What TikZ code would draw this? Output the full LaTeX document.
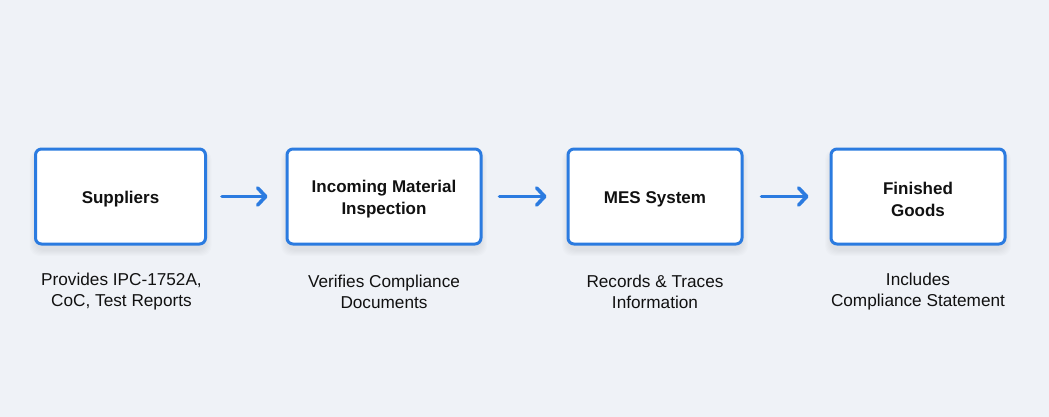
\documentclass[tikz,border=0pt]{standalone}
\usepackage{fontspec}
\setmainfont{Liberation Sans}
\usetikzlibrary{arrows.meta}
\definecolor{bgc}{HTML}{EFF2F7}
\definecolor{bluec}{HTML}{2B7BE0}
\definecolor{txt}{HTML}{111111}
\tikzset{
  box/.style={draw=bluec, line width=3pt, fill=white, rounded corners=6pt,
    minimum height=95pt, align=center, inner sep=0pt,
    font=\fontsize{17}{22}\selectfont\bfseries, text=txt},
  lbl/.style={align=center, font=\fontsize{17.2}{21}\selectfont, text=txt},
  flow/.style={draw=bluec, line width=3.6pt, line cap=round,
    -{Straight Barb[length=8pt,width=17pt,line cap=round,line join=round]}},
}
\newcommand{\softshadow}[4]{%
  \foreach \k in {1,...,6}{%
    \fill[black, opacity=0.012, rounded corners=10pt]
      (#1-#3/2-\k, #2-#4/2+4-\k*0.6) rectangle (#1+#3/2+\k, #2+#4/2+6+\k);
  }}
\begin{document}
\begin{tikzpicture}[x=1pt,y=-1pt]
\fill[bgc] (0,0) rectangle (1049,417);
\useasboundingbox (0,0) rectangle (1049,417);
\softshadow{120.5}{196.5}{170}{95}
\softshadow{384}{196.5}{194}{95}
\softshadow{655}{196.5}{174}{95}
\softshadow{918}{196.5}{174}{95}
\node[box, minimum width=170pt] (s) at (120.5,196.5) {};
\node[box, minimum width=194pt] (i) at (384,196.5) {};
\node[box, minimum width=174pt] (m) at (655,196.5) {};
\node[box, minimum width=174pt] (f) at (918,196.5) {};
\node[box, draw=none, fill=none, minimum height=0pt] (st) at (120.5,199) {Suppliers};
\node[box, draw=none, fill=none, minimum height=0pt] (it) at (384,199) {Incoming Material\\Inspection};
\node[box, draw=none, fill=none, minimum height=0pt] (mt) at (655,199) {MES System};
\node[box, draw=none, fill=none, minimum height=0pt] (ft) at (918,199) {Finished\\Goods};
\draw[flow] ([xshift=15pt]s.east) -- ([xshift=-18pt]i.west);
\draw[flow] ([xshift=17pt]i.east) -- ([xshift=-20pt]m.west);
\draw[flow] ([xshift=18pt]m.east) -- ([xshift=-21pt]f.west);
\node[lbl] (ls) at (121.5,291.5) {Provides IPC-1752A,\\CoC, Test Reports};
\node[lbl] (li) at (384,291.5) {Verifies Compliance\\Documents};
\node[lbl] (lm) at (655,291.5) {Records \& Traces\\Information};
\node[lbl] (lf) at (918,291.5) {Includes\\Compliance Statement};
\end{tikzpicture}
\end{document}
